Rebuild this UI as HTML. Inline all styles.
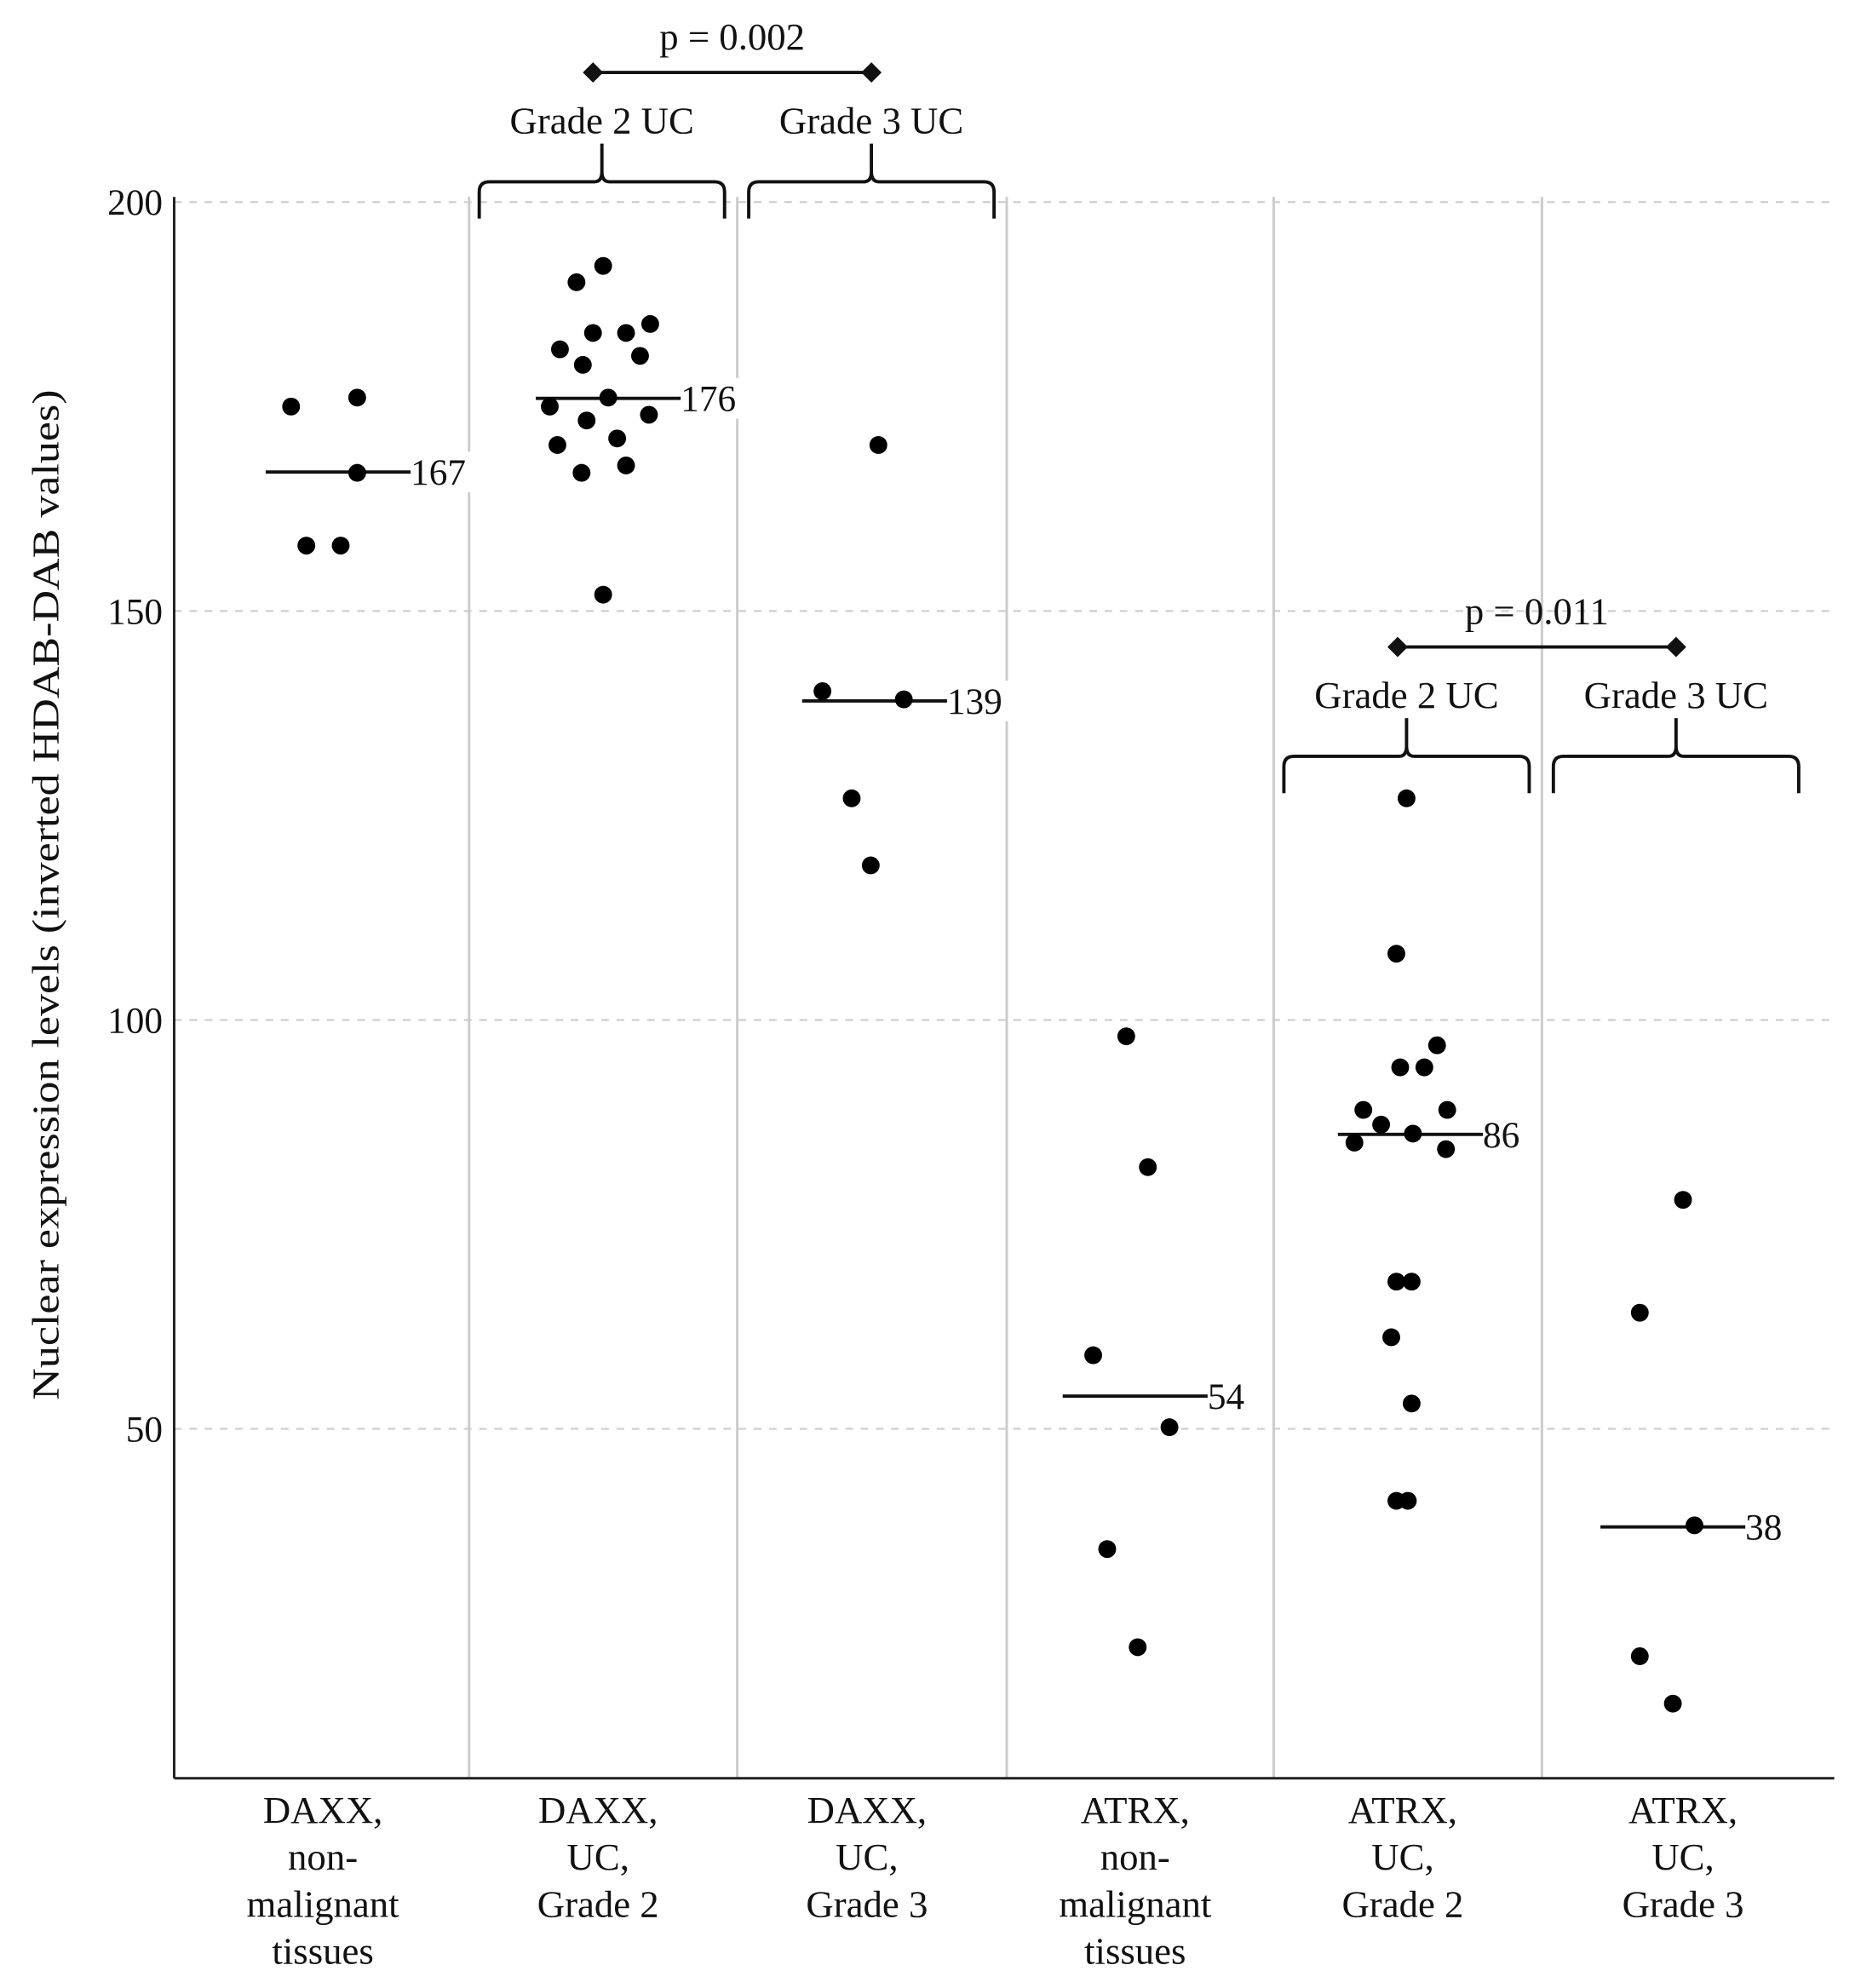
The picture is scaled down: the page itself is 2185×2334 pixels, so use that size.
<!DOCTYPE html>
<html><head><meta charset="utf-8"><style>
html,body{margin:0;padding:0;background:#fff;}
svg{display:block;}
text{font-family:"Liberation Serif",serif;fill:#111;}
</style></head><body>
<svg id="chart" width="2185" height="2334" viewBox="0 0 1464 1564" preserveAspectRatio="none" xmlns="http://www.w3.org/2000/svg"></svg>
<script>
const categories = [["DAXX,","non-","malignant","tissues"],["DAXX,","UC,","Grade 2"],["DAXX,","UC,","Grade 3"],["ATRX,","non-","malignant","tissues"],["ATRX,","UC,","Grade 2"],["ATRX,","UC,","Grade 3"]];
const seriesValues = [
 [175.0,176.1,166.9,158.0,158.0],
 [192.2,190.2,185.1,184.0,184.0,182.0,181.2,180.1,176.1,175.0,174.0,173.3,170.3,171.1,167.8,166.9,152.0],
 [170.3,140.2,139.2,127.1,118.9],
 [98.0,82.0,59.0,50.2,35.3,23.3],
 [127.1,108.1,96.9,94.2,94.2,89.0,89.0,87.2,86.1,85.0,84.2,68.0,68.0,61.2,53.1,41.2,41.2],
 [78.0,64.2,38.2,22.2,16.4]
];
const jitter = [
 [-29,23,23,-17,10],
 [0,-21,37,-8,18,-34,29,-16,4,-42,36,-13,-36,11,18,-17,0],
 [5,-39,25,-16,-1],
 [-11,6,-37,23,-26,-2],
 [-1,-9,23,-6,13,-35,31,-21,4,-42,30,-9,3,-13,3,-9,0],
 [-4,-38,5,-38,-12]
];
const medians = [167,176,139,54,86,38];
const medianOffset = [8,4,2,-4,2,-12];
const yTicks = [200,150,100,50];
const comparisons = [{from:1,to:2,p:"p = 0.002",labels:["Grade 2 UC","Grade 3 UC"],top:143},{from:4,to:5,p:"p = 0.011",labels:["Grade 2 UC","Grade 3 UC"],top:595}];

const svg = document.getElementById('chart');
const NS = "http://www.w3.org/2000/svg";
const X0=137, X1=1443, YB=1399;
const bounds=[137,369,580,792,1002,1213,1443];
function y(v){return 159+(200-v)*6.434;}
function xc(i){return i===0?258:(bounds[i]+bounds[i+1])/2;}
function el(tag,attrs,parent){const e=document.createElementNS(NS,tag);for(const k in attrs)e.setAttribute(k,attrs[k]);(parent||svg).appendChild(e);return e;}

yTicks.forEach(t=>{
 const g=el('line',{x1:X0,x2:X1,y1:y(t),y2:y(t),stroke:'#cfcfcf','stroke-width':1.5,'stroke-dasharray':'6 6'});
 
 
 const tx=el('text',{x:128,y:y(t)+10,'text-anchor':'end','font-size':29});
 tx.textContent=t;
 
 
});
for(let i=1;i<6;i++){
 const s=el('line',{x1:bounds[i],x2:bounds[i],y1:155,y2:YB,stroke:'#cccccc','stroke-width':2});
 
 
}
const ax=el('line',{x1:X0,x2:X0,y1:155,y2:YB,stroke:'#222','stroke-width':2});


const bx=el('line',{x1:X0,x2:X1,y1:YB,y2:YB,stroke:'#222','stroke-width':2});


const yt=el('text',{x:0,y:0,'text-anchor':'middle','font-size':30,textLength:795,lengthAdjust:'spacingAndGlyphs',transform:'translate(46,704) rotate(-90)'});
yt.textContent='Nuclear expression levels (inverted HDAB-DAB values)';



categories.forEach((lines,i)=>{
 const t=el('text',{x:xc(i)-4,y:1434,'text-anchor':'middle','font-size':30});
 
 
 lines.forEach((l,j)=>{const ts=el('tspan',{x:xc(i)-4,dy:j===0?0:37},t);ts.textContent=l;});
});

seriesValues.forEach((vals,i)=>{
 const cx=xc(i);
 const m=medians[i], my=y(m), mx=cx+medianOffset[i];
 const ml=el('line',{x1:mx-57,x2:mx+57,y1:my,y2:my,stroke:'#111','stroke-width':2.6});
 
 
 const bg=el('rect',{x:mx+58,y:my-16,width:(String(m).length*14+6),height:32,fill:'#fff'});
 
 
 const lab=el('text',{x:mx+57,y:my+10,'font-size':29});
 lab.textContent=m;
 
 
 vals.forEach((v,j)=>{
  const c=el('circle',{cx:cx+jitter[i][j],cy:y(v),r:7,fill:'#000'});
  
  
 });
});

function brace(x1,x2,top,g){
 const mid=(x1+x2)/2, b=top+29;
 const p=el('path',{d:`M${x1},${b} L${x1},${top+8} Q${x1},${top} ${x1+8},${top} L${mid-6},${top} Q${mid},${top} ${mid},${top-8} L${mid},${top-30} M${mid},${top-8} Q${mid},${top} ${mid+6},${top} L${x2-8},${top} Q${x2},${top} ${x2},${top+8} L${x2},${b}`,fill:'none',stroke:'#111','stroke-width':2.6},g);
 
 
}
comparisons.forEach(c=>{
 const g=el('g',{});
 
 
 const a=bounds[c.from]+8, b=bounds[c.from+1]-10, d=bounds[c.to]+9, e=Math.min(bounds[c.to+1]-10,d+193);
 brace(a,b,c.top,g); brace(d,e,c.top,g);
 const m1=(a+b)/2, m2=(d+e)/2;
 [[m1,c.labels[0]],[m2,c.labels[1]]].forEach(([x,l])=>{
  const t=el('text',{x:x,y:c.top-38,'text-anchor':'middle','font-size':30},g);t.textContent=l;
  
  
 });
 const ay=c.top-86, x1=m1-7, x2=m2;
 const ln=el('line',{x1:x1,x2:x2,y1:ay,y2:ay,stroke:'#111','stroke-width':2.6},g);
 
 
 [x1,x2].forEach(x=>{const dm=el('polygon',{points:`${x-8},${ay} ${x},${ay-8} ${x+8},${ay} ${x},${ay+8}`,fill:'#111'},g);
  
  });
 const pt=el('text',{x:(x1+x2)/2,y:ay-18,'text-anchor':'middle','font-size':30},g);pt.textContent=c.p;
 
 
});
</script>
</body></html>
